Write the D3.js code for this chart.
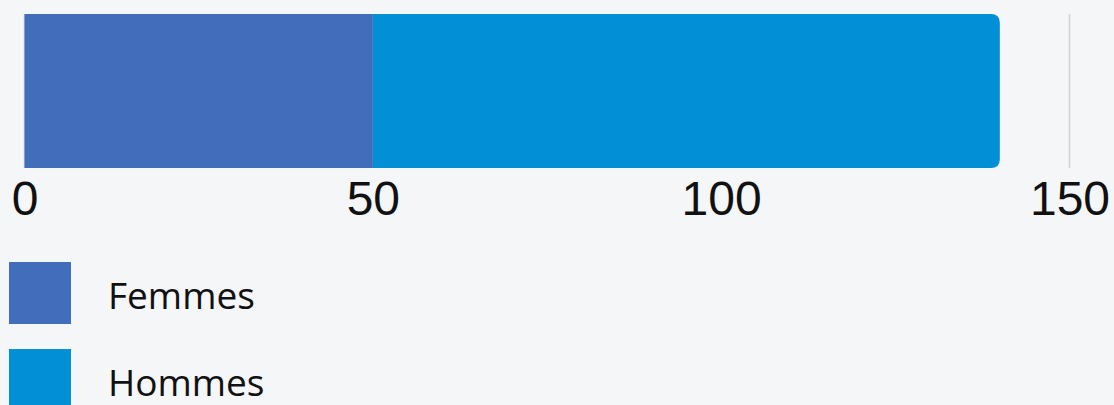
<!DOCTYPE html>
<html>
<head>
<meta charset="utf-8">
<script src="https://cdn.jsdelivr.net/npm/d3@7"></script>
<style>
  html, body { margin: 0; padding: 0; background: #f5f6f8; }
  svg { display: block; }
  .tick-label { font-family: "Liberation Sans", Arial, sans-serif; font-size: 48px; fill: #111; }
  .legend-label { font-family: "Open Sans", sans-serif; font-size: 37px; fill: #111; }
</style>
</head>
<body>
<div id="wrapper"></div>
<script>
// data
const categories = ["Total"];
const seriesNames = ["Femmes", "Hommes"];
const femmesValues = [50];
const hommesValues = [90];
const tickValues = [0, 50, 100, 150];
const colors = ["#426dbb", "#028fd5"];

function drawChart() {
  const dimensions = {
    width: 1114,
    height: 405,
    plotLeft: 24.5,
    plotRight: 1069.5,
    barTop: 14,
    barBottom: 168,
  };

  const rows = categories.map((c, i) => ({
    category: c,
    Femmes: femmesValues[i],
    Hommes: hommesValues[i],
  }));

  const stacked = d3.stack().keys(seriesNames)(rows);

  const svg = d3.select("#wrapper")
    .append("svg")
    .attr("width", dimensions.width)
    .attr("height", dimensions.height);

  // scales
  const xScale = d3.scaleLinear()
    .domain([0, 150])
    .range([dimensions.plotLeft, dimensions.plotRight]);

  const yScale = d3.scaleBand()
    .domain(categories)
    .range([dimensions.barTop, dimensions.barBottom])
    .padding(0);

  const color = d3.scaleOrdinal().domain(seriesNames).range(colors);

  // grid lines
  svg.append("g")
    .selectAll("line")
    .data(tickValues)
    .join("line")
    .attr("x1", d => xScale(d))
    .attr("x2", d => xScale(d))
    .attr("y1", dimensions.barTop)
    .attr("y2", dimensions.barBottom)
    .attr("stroke", "#cfd1d4")
    .attr("stroke-width", 1.5);

  // bars, last segment gets rounded right corners
  const r = 9;
  function roundedRight(x0, x1, y0, h) {
    const rr = Math.min(r, (x1 - x0), h / 2);
    return `M${x0},${y0}H${x1 - rr}Q${x1},${y0} ${x1},${y0 + rr}` +
      `V${y0 + h - rr}Q${x1},${y0 + h} ${x1 - rr},${y0 + h}H${x0}Z`;
  }

  stacked.forEach((layer, li) => {
    const isLast = li === stacked.length - 1;
    svg.append("g")
      .attr("fill", color(layer.key))
      .selectAll("path")
      .data(layer)
      .join("path")
      .attr("d", d => {
        const x0 = xScale(d[0]), x1 = xScale(d[1]);
        const y0 = yScale(d.data.category), h = yScale.bandwidth();
        if (isLast) return roundedRight(x0, x1, y0, h);
        return `M${x0},${y0}H${x1}V${y0 + h}H${x0}Z`;
      });
  });

  // axis labels
  const xAxis = svg.append("g")
    .attr("transform", `translate(0, ${dimensions.barBottom})`)
    .call(d3.axisBottom(xScale).tickValues(tickValues).tickSize(0).tickPadding(0));
  xAxis.select(".domain").remove();
  xAxis.selectAll("text")
    .attr("class", "tick-label")
    .attr("dy", null)
    .attr("y", 47)
    .attr("fill", null)
    .attr("font-size", null)
    .attr("font-family", null);

  // legend
  const legend = svg.append("g")
    .selectAll("g")
    .data(seriesNames)
    .join("g")
    .attr("transform", (d, i) => `translate(9, ${262 + i * 87})`);

  legend.append("rect")
    .attr("width", 62)
    .attr("height", 62)
    .attr("fill", d => color(d));

  legend.append("text")
    .attr("class", "legend-label")
    .attr("x", 99)
    .attr("y", 47)
    .text(d => d);
}
drawChart();
</script>
</body>
</html>
